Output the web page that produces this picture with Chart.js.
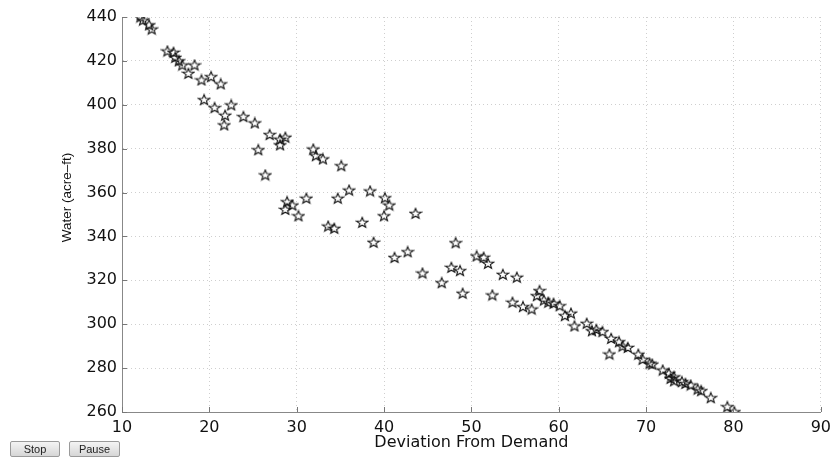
<!DOCTYPE html>
<html>
<head>
<meta charset="utf-8">
<script src="https://cdn.jsdelivr.net/npm/chart.js@4.4.0/dist/chart.umd.min.js"></script>
<style>
  html, body { margin: 0; padding: 0; background: #fff; }
  #wrap { position: absolute; left: 0; top: 0; width: 837px; height: 458px; }
  .btn {
    position: absolute; top: 441px; height: 16px;
    font: 11px "Liberation Sans", Arial, sans-serif; color: #222;
    border: 1px solid #9a9a9a; border-radius: 2px;
    background: linear-gradient(#f4f4f4, #d6d6d6);
    padding: 0; box-sizing: border-box;
  }
</style>
</head>
<body>
<div id="wrap">
  <canvas id="grafico" width="837" height="458"></canvas>
  <button class="btn" style="left:10px;width:50px;">Stop</button>
  <button class="btn" style="left:69px;width:51px;">Pause</button>
</div>
<script>
// valores
const desvio = [
  12.1, 12.4, 13.1, 13.4, 15.2, 15.9, 16.1, 16.5, 16.9, 18.3,
  17.6, 19.1, 20.2, 21.3, 19.4, 20.6, 22.5, 21.8, 21.7, 23.9,
  25.2, 26.9, 28.1, 28.7, 28.1, 25.6, 31.9, 26.4, 32.2, 33.0,
  35.1, 36.0, 38.4, 40.1, 40.6, 40.0, 43.6, 31.1, 34.7, 28.9,
  29.5, 28.7, 30.2, 33.6, 34.3, 37.5, 38.8, 41.2, 42.7, 44.4,
  46.6, 48.2, 47.7, 48.7, 49.0, 50.6, 51.4, 51.9, 53.6, 55.2,
  52.4, 54.7, 55.9, 56.9, 57.8, 57.5, 58.3, 58.8, 59.4, 60.1,
  60.7, 61.4, 61.8, 63.2, 63.8, 64.3, 65.0, 65.8, 66.0, 66.9,
  67.3, 67.9, 69.1, 69.6, 70.4, 70.7, 71.9, 72.6, 73.2, 72.8,
  73.2, 74.1, 74.5, 75.1, 75.9, 76.3, 77.4, 79.3, 80.1
];
const agua = [
  440.0, 438.6, 436.4, 434.5, 424.5, 423.9, 421.6, 420.0, 418.1, 418.1,
  414.3, 411.3, 412.8, 409.5, 402.3, 398.7, 399.9, 395.2, 390.8, 394.6,
  391.7, 386.4, 384.3, 385.2, 381.7, 379.5, 379.8, 368.0, 376.8, 375.3,
  372.2, 361.1, 360.7, 357.6, 354.3, 349.4, 350.5, 357.4, 357.4, 355.8,
  354.3, 352.3, 349.4, 344.7, 343.7, 346.4, 337.3, 330.4, 333.0, 323.3,
  318.9, 337.1, 325.9, 324.4, 314.1, 331.1, 330.5, 327.7, 322.7, 321.4,
  313.3, 310.0, 308.0, 306.9, 315.3, 313.0, 311.0, 310.0, 309.5, 308.4,
  303.9, 305.0, 299.2, 300.4, 297.0, 297.6, 296.6, 286.4, 293.5, 292.0,
  290.0, 289.4, 286.3, 284.0, 282.2, 281.8, 279.1, 277.6, 276.0, 275.3,
  274.2, 273.8, 273.0, 272.3, 270.4, 269.7, 266.5, 262.4, 260.1
];
const xMin = 10, xMax = 90, xPasso = 10;
const yMin = 260, yMax = 440, yPasso = 20;
const tituloX = 'Deviation From Demand';
const tituloY = 'Water (acre–ft)';

// estrela de 5 pontas (contorno)
function criaEstrela() {
  const c = document.createElement('canvas');
  c.width = 14; c.height = 13;
  const g = c.getContext('2d');
  g.beginPath();
  for (let i = 0; i < 10; i++) {
    const a = -Math.PI / 2 + i * Math.PI / 5;
    const rx = i % 2 ? 2.5 : 6.0;
    const ry = i % 2 ? 2.3 : 5.4;
    g.lineTo(7 + rx * Math.cos(a), 6.9 + ry * Math.sin(a));
  }
  g.closePath();
  g.strokeStyle = '#111';
  g.lineWidth = 1.1;
  g.stroke();
  return c;
}
const estrela = criaEstrela();

const pontos = desvio.map((x, i) => ({ x: x, y: agua[i] }));

// marcas de tick para dentro (estilo matlab) + titulo do eixo y
const extras = {
  id: 'extras',
  afterDraw(chart) {
    const ctx = chart.ctx, a = chart.chartArea;
    const sx = chart.scales.x, sy = chart.scales.y;
    ctx.save();
    ctx.strokeStyle = '#777';
    ctx.lineWidth = 1;
    ctx.beginPath();
    sx.ticks.forEach(t => {
      const px = Math.round(sx.getPixelForValue(t.value)) + 0.5;
      ctx.moveTo(px, a.bottom); ctx.lineTo(px, a.bottom - 5);
    });
    sy.ticks.forEach(t => {
      const py = Math.round(sy.getPixelForValue(t.value)) + 0.5;
      ctx.moveTo(a.left, py); ctx.lineTo(a.left + 5, py);
    });
    ctx.stroke();

    // titulo y um pouco acima do centro, como no original
    ctx.translate(67, (a.top + a.bottom) / 2 - 17);
    ctx.rotate(-Math.PI / 2);
    ctx.fillStyle = '#111';
    ctx.font = '13.5px "Liberation Sans"';
    ctx.textAlign = 'center';
    ctx.textBaseline = 'middle';
    ctx.fillText(tituloY, 0, 0);
    ctx.restore();
  }
};

const ctx = document.getElementById('grafico').getContext('2d');
const grafico = new Chart(ctx, {
  type: 'scatter',
  data: {
    datasets: [{
      data: pontos,
      pointStyle: estrela,
      pointRadius: 6,
      pointHoverRadius: 6
    }]
  },
  options: {
    responsive: false,
    animation: false,
    layout: { padding: { top: 17, right: 11, bottom: 0, left: 0 } },
    plugins: { legend: { display: false }, tooltip: { enabled: false } },
    scales: {
      x: {
        type: 'linear', min: xMin, max: xMax,
        afterFit: s => { s.height = 46; },
        ticks: { stepSize: xPasso, padding: 6, color: '#111', maxRotation: 0,
                 font: { family: 'DejaVu Sans', size: 16 } },
        grid: { color: '#cfcfcf', drawTicks: false },
        border: { color: '#888', width: 1, dash: [1, 3] },
        title: { display: true, text: tituloX, color: '#111',
                 font: { family: 'DejaVu Sans', size: 16 }, padding: { top: 0, bottom: 6 } }
      },
      y: {
        type: 'linear', min: yMin, max: yMax,
        afterFit: s => { s.width = 122; },
        ticks: { stepSize: yPasso, padding: 5, color: '#111',
                 font: { family: 'DejaVu Sans', size: 16 } },
        grid: { color: '#cfcfcf', drawTicks: false },
        border: { color: '#888', width: 1, dash: [1, 3] }
      }
    }
  },
  plugins: [extras]
});
</script>
</body>
</html>
